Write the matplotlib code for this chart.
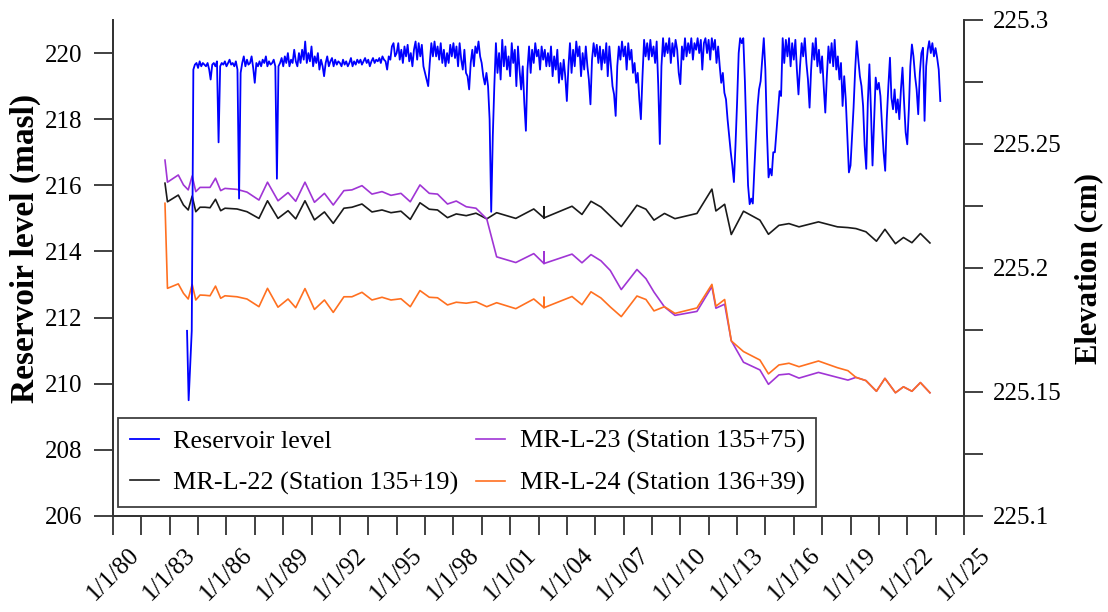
import datetime as dt
import matplotlib
matplotlib.use("Agg")
import matplotlib.pyplot as plt
import matplotlib.dates as mdates
from matplotlib.ticker import FixedLocator, MultipleLocator, FuncFormatter
import pandas as pd

plt.rcParams["font.family"] = ["Liberation Serif", "DejaVu Serif"]

# Monthly reservoir level (masl), Dec 1983 - Oct 2023
reservoir_level = [
    211.6,  # Dec 1983
    209.5, 210.6, 211.6, 219.5, 219.65, 219.7, 219.55, 219.75, 219.6, 219.7, 219.65, 219.6,  # 1984
    219.7, 219.5, 219.2, 219.65, 219.7, 219.6, 219.75, 217.3, 219.6, 219.7, 219.65, 219.75,  # 1985
    219.6, 219.7, 219.8, 219.65, 219.7, 219.6, 219.75, 219.5, 215.6, 219.4, 219.7, 219.9,  # 1986
    219.6, 219.8, 219.65, 219.7, 219.9, 219.55, 219.1, 219.7, 219.6, 219.75, 219.6, 219.8,  # 1987
    219.7, 219.9, 219.6, 219.75, 219.65, 219.7, 219.8, 219.6, 216.2, 219.6, 219.7, 219.85,  # 1988
    219.6, 219.9, 219.7, 220.0, 219.6, 219.8, 219.7, 220.1, 219.75, 219.6, 220.0, 219.7,  # 1989
    220.1, 219.8, 220.35, 219.7, 220.0, 219.75, 220.2, 219.6, 219.9, 219.7, 220.0, 219.5,  # 1990
    219.8, 219.6, 219.3, 219.7, 219.9, 219.6, 219.75, 219.85, 219.6, 219.8, 219.65, 219.75,  # 1991
    219.7, 219.6, 219.8, 219.65, 219.75, 219.6, 219.7, 219.85, 219.6, 219.75, 219.65, 219.8,  # 1992
    219.7, 219.8, 219.65, 219.75, 219.85, 219.7, 219.8, 219.6, 219.75, 219.85, 219.7, 219.8,  # 1993
    219.75, 219.85, 219.7, 219.9, 219.8, 219.75, 219.5, 219.9, 219.8, 220.2, 220.3, 219.9,  # 1994
    220.0, 220.3, 219.8, 220.1, 219.7, 220.2, 219.9, 220.25, 219.75, 220.0, 219.6, 220.1,  # 1995
    220.35, 219.8, 220.3, 219.9, 220.25, 219.6, 219.4, 219.2, 219.0, 219.7, 220.3, 219.9,  # 1996
    220.35, 219.9, 220.2, 219.8, 220.3, 219.7, 220.1, 219.6, 220.0, 219.7, 220.25, 219.9,  # 1997
    220.3, 219.85, 220.2, 219.6, 220.3, 219.8, 219.5, 220.1, 219.4, 219.3, 218.9, 219.7,  # 1998
    220.1, 219.6, 220.2, 220.0, 220.35, 219.9, 219.7, 219.3, 219.05, 219.4, 219.0, 218.0,  # 1999
    215.2, 217.5, 219.0, 220.3, 219.4, 220.0, 219.2, 220.4, 219.6, 220.2, 219.5, 219.9,  # 2000
    219.3, 220.3, 219.7, 220.1, 219.0, 220.2, 219.5, 218.9, 219.6, 218.5, 217.65, 219.5,  # 2001
    220.2, 219.4, 220.1, 219.7, 220.3, 219.9, 220.1, 219.5, 220.2, 219.8, 220.1, 219.6,  # 2002
    220.0, 219.6, 220.2, 219.3, 219.9, 219.5, 220.1, 219.1, 219.7, 219.2, 219.8, 219.3,  # 2003
    218.55, 219.6, 220.3, 219.4, 220.1, 219.6, 220.35, 219.9, 220.2, 219.3, 220.0, 219.5,  # 2004
    220.2, 219.6, 219.2, 218.45, 219.8, 220.3, 219.9, 220.25, 219.7, 220.2, 219.5, 220.1,  # 2005
    219.7, 220.3, 219.3, 220.2, 219.6, 219.0, 218.75, 218.1, 219.6, 220.2, 219.8, 220.35,  # 2006
    219.9, 220.2, 219.5, 220.3, 219.8, 220.1, 219.4, 219.7, 219.1, 219.4, 218.6, 218.0,  # 2007
    219.3, 220.4, 219.9, 220.3, 219.8, 220.4, 219.9, 220.2, 219.7, 220.35, 219.0, 217.25,  # 2008
    219.6, 220.45, 219.9, 220.3, 220.0, 220.45, 219.7, 220.3, 219.9, 220.4, 220.1, 219.4,  # 2009
    219.06, 220.2, 219.8, 220.45, 219.9, 220.3, 220.0, 220.45, 219.8, 220.3, 220.1, 220.45,  # 2010
    220.0, 220.4, 219.5, 220.3, 220.45, 220.0, 220.4, 219.8, 220.45, 220.1, 220.4, 219.7,  # 2011
    220.2, 219.6, 219.1, 219.4, 218.8, 218.6, 218.0, 217.5, 217.0, 216.6, 216.1, 217.2,  # 2012
    218.5, 220.0, 220.45, 220.3, 220.45, 219.15, 217.5, 216.0, 215.43, 215.6, 215.45, 216.5,  # 2013
    217.5, 218.4, 218.9, 219.15, 219.8, 220.45, 219.5, 217.6, 216.24, 216.5, 216.3, 217.0,  # 2014
    217.0, 217.65, 218.2, 218.85, 218.7, 220.45, 219.7, 220.4, 219.9, 220.45, 219.6, 220.3,  # 2015
    219.8, 220.4, 219.5, 218.75, 219.6, 220.3, 219.9, 220.45, 219.7, 219.2, 218.35, 219.5,  # 2016
    220.3, 219.8, 220.45, 219.6, 220.1, 219.4, 219.9, 219.0, 218.2, 219.3, 220.2, 219.7,  # 2017
    220.3, 219.6, 220.4, 219.5, 219.9, 219.2, 219.7, 218.4, 219.3, 218.6, 217.5, 216.39,  # 2018
    216.6, 217.5, 218.35, 219.5, 220.36, 219.8, 219.3, 219.0, 218.4, 217.2, 216.5, 218.5,  # 2019
    219.66, 218.2, 216.6, 218.0, 219.26, 218.9, 219.1, 218.7, 217.8, 217.0, 216.44, 218.0,  # 2020
    219.0, 219.86, 218.65, 218.3, 218.9, 218.2, 218.6, 218.0, 218.9, 219.56, 218.5, 217.6,  # 2021
    217.24, 218.3, 219.6, 220.26, 219.9, 219.3, 218.9, 218.15, 219.4, 220.0, 220.16, 217.95,  # 2022
    219.6, 220.1, 220.36, 220.0, 220.3, 219.9, 220.15, 219.86, 219.5, 218.55,  # 2023
]
reservoir_dates = pd.date_range("1983-12-01", periods=len(reservoir_level), freq="MS")

# Settlement monitoring points (elevation), shared survey dates
survey_dates = pd.to_datetime([
    "1982-10-01", "1982-11-18", "1983-06-15", "1983-09-23", "1983-12-24", "1984-03-09", "1984-05-18", "1984-08-08", "1984-11-12", "1985-02-17",
    "1985-06-03", "1985-09-11", "1985-12-03", "1986-07-23", "1987-02-01", "1987-09-20", "1988-03-03", "1988-09-22", "1989-04-04", "1989-08-30",
    "1990-02-25", "1990-08-27", "1991-03-08", "1991-08-25", "1992-03-18", "1992-08-20", "1993-03-02", "1993-09-11", "1994-03-24", "1994-09-13",
    "1995-03-25", "1995-09-21", "1996-03-26", "1996-09-22", "1997-02-28", "1997-09-09", "1998-02-25", "1998-09-06", "1999-03-13", "1999-10-07",
    "2000-04-15", "2001-04-20", "2002-04-02", "2002-10-16", "2002-10-16", "2002-10-16", "2004-04-10", "2004-10-19", "2005-04-11", "2005-10-21",
    "2006-04-19", "2006-11-17", "2007-09-16", "2008-03-08", "2008-08-10", "2009-03-01", "2009-09-19", "2010-11-18", "2011-09-03", "2011-11-19",
    "2012-05-06", "2012-09-11", "2013-05-05", "2014-03-18", "2014-08-30", "2015-03-20", "2015-09-30", "2016-04-11", "2017-04-22", "2018-04-23",
    "2018-11-12", "2019-04-16", "2019-10-26", "2020-05-16", "2020-10-27", "2021-05-18", "2021-10-20", "2022-04-01", "2022-09-12", "2023-03-15",
])

mr_l_22 = [
    225.2342, 225.2267, 225.2294, 225.2254, 225.2234, 225.2290, 225.2227, 225.2245, 225.2245, 225.2243,
    225.2277, 225.2231, 225.2241, 225.2238, 225.2227, 225.2200, 225.2271, 225.2200, 225.2231, 225.2198,
    225.2271, 225.2194, 225.2226, 225.2180, 225.2241, 225.2245, 225.2258, 225.2226, 225.2234, 225.2223,
    225.2229, 225.2196, 225.2263, 225.2237, 225.2234, 225.2203, 225.2218, 225.2211, 225.2221, 225.2198,
    225.2223, 225.2200, 225.2238, 225.2202, 225.2247, 225.2202, 225.2249, 225.2216, 225.2269, 225.2246,
    225.2210, 225.2167, 225.2253, 225.2237, 225.2193, 225.2220, 225.2199, 225.2220, 225.2318, 225.2230,
    225.2257, 225.2135, 225.2229, 225.2193, 225.2136, 225.2172, 225.2179, 225.2166, 225.2186, 225.2166,
    225.2163, 225.2159, 225.2146, 225.2108, 225.2156, 225.2098, 225.2123, 225.2102, 225.2139, 225.2101,
]
mr_l_23 = [
    225.2435, 225.2346, 225.2375, 225.2335, 225.2315, 225.2371, 225.2308, 225.2325, 225.2325, 225.2325,
    225.2362, 225.2312, 225.2321, 225.2317, 225.2306, 225.2274, 225.2346, 225.2271, 225.2304, 225.2269,
    225.2346, 225.2265, 225.2301, 225.2254, 225.2312, 225.2315, 225.2332, 225.2298, 225.2308, 225.2293,
    225.2301, 225.2267, 225.2335, 225.2301, 225.2298, 225.2258, 225.2270, 225.2247, 225.2241, 225.2198,
    225.2045, 225.2022, 225.2058, 225.2018, 225.2065, 225.2018, 225.2056, 225.2021, 225.2054, 225.2029,
    225.1990, 225.1913, 225.1994, 225.1957, 225.1903, 225.1843, 225.1809, 225.1825, 225.1925, 225.1838,
    225.1854, 225.1707, 225.1620, 225.1589, 225.1531, 225.1569, 225.1573, 225.1556, 225.1579, 225.1559,
    225.1548, 225.1559, 225.1546, 225.1503, 225.1555, 225.1497, 225.1521, 225.1503, 225.1538, 225.1497,
]
mr_l_24 = [
    225.2261, 225.1918, 225.1936, 225.1898, 225.1875, 225.1934, 225.1871, 225.1891, 225.1890, 225.1888,
    225.1927, 225.1878, 225.1888, 225.1884, 225.1875, 225.1844, 225.1918, 225.1842, 225.1875, 225.1840,
    225.1917, 225.1833, 225.1871, 225.1821, 225.1884, 225.1884, 225.1902, 225.1871, 225.1882, 225.1871,
    225.1876, 225.1844, 225.1909, 225.1882, 225.1880, 225.1851, 225.1862, 225.1858, 225.1864, 225.1844,
    225.1860, 225.1836, 225.1875, 225.1840, 225.1882, 225.1840, 225.1885, 225.1852, 225.1904, 225.1879,
    225.1843, 225.1804, 225.1887, 225.1873, 225.1827, 225.1844, 225.1817, 225.1839, 225.1934, 225.1846,
    225.1873, 225.1706, 225.1663, 225.1629, 225.1573, 225.1609, 225.1616, 225.1602, 225.1625, 225.1598,
    225.1586, 225.1559, 225.1546, 225.1503, 225.1555, 225.1497, 225.1521, 225.1503, 225.1538, 225.1497,
]

label_years = list(range(1980, 2026, 3))

fig = plt.figure(figsize=(11.08, 6.12), dpi=100)
ax = fig.add_axes([113 / 1108, 1 - 516 / 612, 851 / 1108, 496 / 612])
ax2 = ax.twinx()
# keep reservoir axis on top so the legend sits above everything
ax.set_zorder(ax2.get_zorder() + 1)
ax.patch.set_visible(False)

l1, = ax.plot(reservoir_dates, reservoir_level, color="#0000FF", lw=1.3, label="Reservoir level")
l2, = ax2.plot(survey_dates, mr_l_22, color="#1a1a1a", lw=1.2, label="MR-L-22 (Station 135+19)")
l3, = ax2.plot(survey_dates, mr_l_23, color="#A035D5", lw=1.2, label="MR-L-23 (Station 135+75)")
l4, = ax2.plot(survey_dates, mr_l_24, color="#FF7020", lw=1.2, label="MR-L-24 (Station 136+39)")

ax.set_xlim(dt.datetime(1980, 1, 1), dt.datetime(2025, 1, 1))
ax.set_ylim(206, 221)
ax2.set_ylim(225.1, 225.3)

major = [mdates.date2num(dt.datetime(y, 1, 1)) for y in label_years]
minor = [(a + b) / 2 for a, b in zip(major[:-1], major[1:])]
ax.xaxis.set_major_locator(FixedLocator(major))
ax.xaxis.set_minor_locator(FixedLocator(minor))
ax.xaxis.set_major_formatter(FuncFormatter(lambda v, p: "1/1/" + mdates.num2date(v).strftime("%y")))
ax.yaxis.set_major_locator(MultipleLocator(2))
ax2.yaxis.set_major_locator(MultipleLocator(0.05))
ax2.yaxis.set_minor_locator(MultipleLocator(0.025))
ax2.yaxis.set_major_formatter(FuncFormatter(lambda v, p: f"{v:g}"))

for a in (ax, ax2):
    a.spines["top"].set_visible(False)
    for s in a.spines.values():
        s.set_linewidth(1.3)
        s.set_color("#333333")
    a.tick_params(which="both", direction="out", length=14, width=1.3, color="#333333",
                  labelsize=18, pad=8)
ax2.tick_params(axis="y", which="both", pad=7)
ax.tick_params(axis="x", which="both", pad=6)
ax.tick_params(axis="x", which="major", labelrotation=45)
for t in ax.get_xticklabels():
    t.set_ha("center")
    t.set_rotation_mode("default")

ax.set_ylabel("Reservoir level (masl)", fontsize=24, fontweight="bold")
ax.yaxis.set_label_coords(-0.085, 0.54)
ax2.set_ylabel("Elevation (cm)", fontsize=22, fontweight="bold")
ax2.yaxis.set_label_coords(1.129, 0.5)

leg = ax.legend(handles=[l1, l2, l3, l4], ncol=2, loc="lower left",
                bbox_to_anchor=(0.006, 0.018), borderaxespad=0, fontsize=18.8,
                frameon=True, fancybox=False, edgecolor="#404040", framealpha=1,
                handlelength=1.1, handletextpad=0.55, columnspacing=0.7,
                labelspacing=0.7, borderpad=0.45)
leg.get_frame().set_linewidth(1.3)

fig.savefig("out.png", dpi=100)
